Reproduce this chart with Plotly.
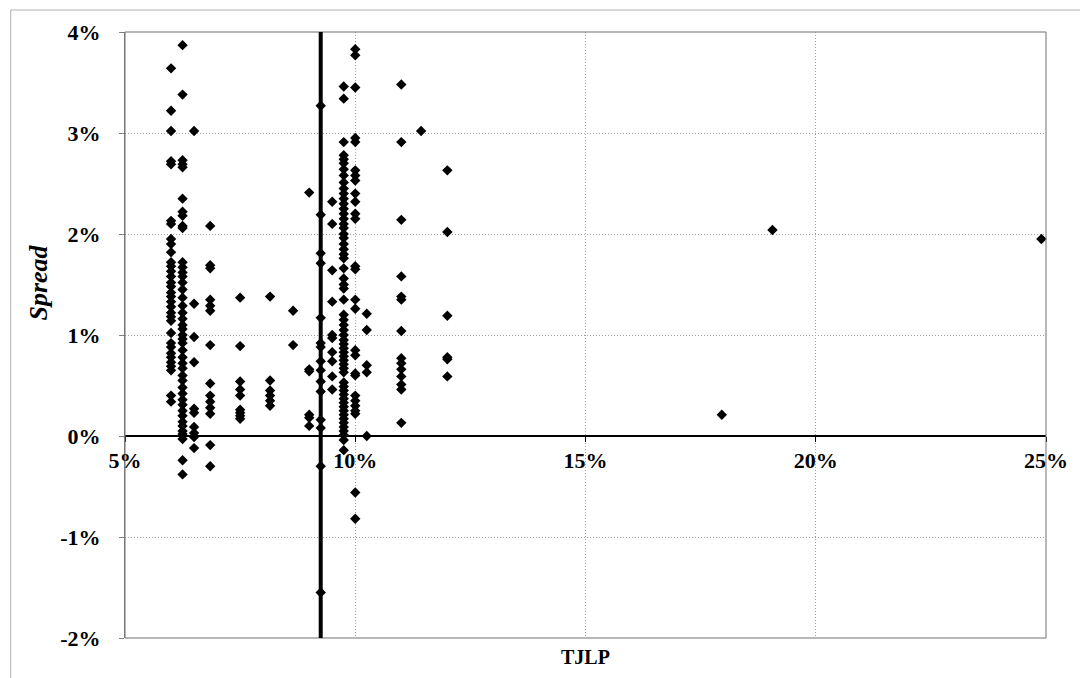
import plotly.graph_objects as go

# TJLP levels (%) and the spreads (%) observed at each level
tjlp_levels = [6.0, 6.25, 6.5, 6.85, 7.5, 8.15, 8.65, 9.0, 9.25, 9.5, 9.75, 10.0,
               10.25, 11.0, 11.43, 12.0, 17.96, 19.06, 24.9]

spread_6_00 = [3.64, 3.22, 3.02, 2.72, 2.69, 2.13, 2.10, 1.95, 1.90, 1.82, 1.72, 1.68,
               1.63, 1.58, 1.52, 1.48, 1.42, 1.38, 1.33, 1.28, 1.22, 1.18, 1.14, 1.02,
               0.92, 0.88, 0.82, 0.78, 0.73, 0.69, 0.65, 0.40, 0.34]
spread_6_25 = [3.87, 3.38, 2.73, 2.69, 2.66, 2.35, 2.22, 2.18, 2.08, 2.06, 1.72, 1.67,
               1.62, 1.58, 1.52, 1.45, 1.37, 1.29, 1.22, 1.16, 1.10, 1.06, 1.00, 0.96,
               0.92, 0.85, 0.78, 0.72, 0.67, 0.60, 0.55, 0.48, 0.42, 0.36, 0.31, 0.25,
               0.20, 0.14, 0.10, 0.05, 0.02, -0.03, -0.24, -0.38]
spread_6_50 = [3.02, 1.31, 0.98, 0.73, 0.27, 0.23, 0.09, 0.03, -0.01, -0.12]
spread_6_85 = [2.08, 1.69, 1.66, 1.35, 1.29, 1.24, 0.90, 0.52, 0.40, 0.34, 0.28, 0.22,
               -0.09, -0.30]
spread_7_50 = [1.37, 0.89, 0.54, 0.46, 0.40, 0.26, 0.23, 0.20, 0.17]
spread_8_15 = [1.38, 0.55, 0.45, 0.40, 0.35, 0.30]
spread_8_65 = [1.24, 0.90]
spread_9_00 = [2.41, 0.66, 0.64, 0.21, 0.18, 0.10]
spread_9_25 = [3.27, 2.19, 1.81, 1.71, 1.17, 0.92, 0.88, 0.74, 0.65, 0.54, 0.44, 0.16,
               0.08, -0.30, -1.55]
spread_9_50 = [2.32, 2.10, 1.64, 1.33, 1.00, 0.97, 0.83, 0.74, 0.59, 0.46]
spread_9_75 = [3.46, 3.34, 2.91, 2.78, 2.74, 2.70, 2.64, 2.58, 2.51, 2.45, 2.40, 2.35,
               2.30, 2.25, 2.20, 2.15, 2.10, 2.06, 2.00, 1.96, 1.90, 1.85, 1.80, 1.76,
               1.66, 1.56, 1.50, 1.46, 1.35, 1.20, 1.15, 1.10, 1.05, 1.00, 0.95, 0.91,
               0.87, 0.83, 0.79, 0.75, 0.71, 0.67, 0.63, 0.53, 0.49, 0.45, 0.41, 0.37,
               0.33, 0.29, 0.25, 0.21, 0.17, 0.13, 0.09, 0.05, 0.01, -0.04, -0.14]
spread_10_00 = [3.83, 3.77, 3.45, 2.95, 2.91, 2.63, 2.58, 2.53, 2.40, 2.32, 2.20, 2.15,
                1.68, 1.65, 1.35, 1.26, 0.85, 0.80, 0.62, 0.60, 0.40, 0.35, 0.30, 0.25,
                0.22, -0.56, -0.82]
spread_10_25 = [1.21, 1.05, 0.70, 0.63, 0.00]
spread_11_00 = [3.48, 2.91, 2.14, 1.58, 1.38, 1.35, 1.04, 0.77, 0.72, 0.66, 0.59, 0.51,
                0.46, 0.13]
spread_11_43 = [3.02]
spread_12_00 = [2.63, 2.02, 1.19, 0.78, 0.76, 0.59]
spread_17_96 = [0.21]
spread_19_06 = [2.04]
spread_24_90 = [1.95]

spread_by_level = [spread_6_00, spread_6_25, spread_6_50, spread_6_85, spread_7_50,
                   spread_8_15, spread_8_65, spread_9_00, spread_9_25, spread_9_50,
                   spread_9_75, spread_10_00, spread_10_25, spread_11_00, spread_11_43,
                   spread_12_00, spread_17_96, spread_19_06, spread_24_90]

tjlp_reference = 9.25          # vertical reference line
x_ticks = [5, 10, 15, 20, 25]
y_ticks = [-2, -1, 0, 1, 2, 3, 4]
x_title = "TJLP"
y_title = "Spread"

xs, ys = [], []
for lvl, vals in zip(tjlp_levels, spread_by_level):
    for v in vals:
        xs.append(lvl)
        ys.append(v)

FONT = "Liberation Serif, Times New Roman, serif"

fig = go.Figure()
fig.add_trace(go.Scatter(
    x=xs, y=ys, mode="markers",
    marker=dict(symbol="diamond", size=8, color="black", line=dict(width=0)),
    showlegend=False, cliponaxis=False,
))

W, H = 1080, 678
L, R, T, B = 125, 28, 32, 40
pw, ph = W - L - R, H - T - B
zero_pos = (0 - y_ticks[0]) / (y_ticks[-1] - y_ticks[0])

GRID = "#a0a0a0"
fig.update_layout(
    width=W, height=H,
    margin=dict(l=L, r=R, t=T, b=B),
    paper_bgcolor="white", plot_bgcolor="white",
    font=dict(family=FONT, size=22, color="black"),
    xaxis=dict(
        range=[x_ticks[0], x_ticks[-1]], tickvals=x_ticks,
        ticktext=[f"{v}%" for v in x_ticks],
        tickfont=dict(family=FONT, size=22, color="black", weight="bold"),
        showgrid=True, gridcolor=GRID, griddash="1px,2px", gridwidth=1,
        anchor="free", position=zero_pos,
        showline=True, linecolor="black", linewidth=2,
        ticks="outside", ticklen=5, tickcolor="black", tickwidth=1,
        ticklabelstandoff=0,
        zeroline=False,
    ),
    yaxis=dict(
        range=[y_ticks[0], y_ticks[-1]], tickvals=y_ticks,
        ticktext=[f"{v}%" for v in y_ticks],
        tickfont=dict(family=FONT, size=22, color="black", weight="bold"),
        showgrid=True, gridcolor=GRID, griddash="1px,2px", gridwidth=1,
        showline=True, linecolor="#808080", linewidth=1,
        ticks="outside", ticklen=5, tickcolor="#808080",
        ticklabelstandoff=14,
        zeroline=False,
    ),
)

# plot-area border
fig.add_shape(type="rect", xref="paper", yref="paper", x0=0, y0=0, x1=1, y1=1,
              line=dict(color="#707070", width=1), layer="above")
# outer chart frame
fig.add_shape(type="rect", xref="paper", yref="paper",
              x0=(10 - L) / pw, y0=-0.3, x1=1.3, y1=(H - B - 10) / ph,
              line=dict(color="#b0b0b0", width=1), layer="below")
# vertical reference line
fig.add_shape(type="line", xref="x", yref="paper", x0=tjlp_reference, x1=tjlp_reference,
              y0=0, y1=1, line=dict(color="black", width=4), layer="above")

fig.add_annotation(text=f"<b>{x_title}</b>", xref="paper", yref="paper",
                   x=0.5, y=(H - B - 657) / ph, showarrow=False,
                   font=dict(family=FONT, size=20, color="black"),
                   xanchor="center", yanchor="middle")
fig.add_annotation(text=f"<b><i>{y_title}</i></b>", xref="paper", yref="paper",
                   x=(37 - L) / pw, y=(H - B - 283) / ph, showarrow=False, textangle=-90,
                   font=dict(family=FONT, size=26, color="black"),
                   xanchor="center", yanchor="middle")

fig.write_html("out.html")
